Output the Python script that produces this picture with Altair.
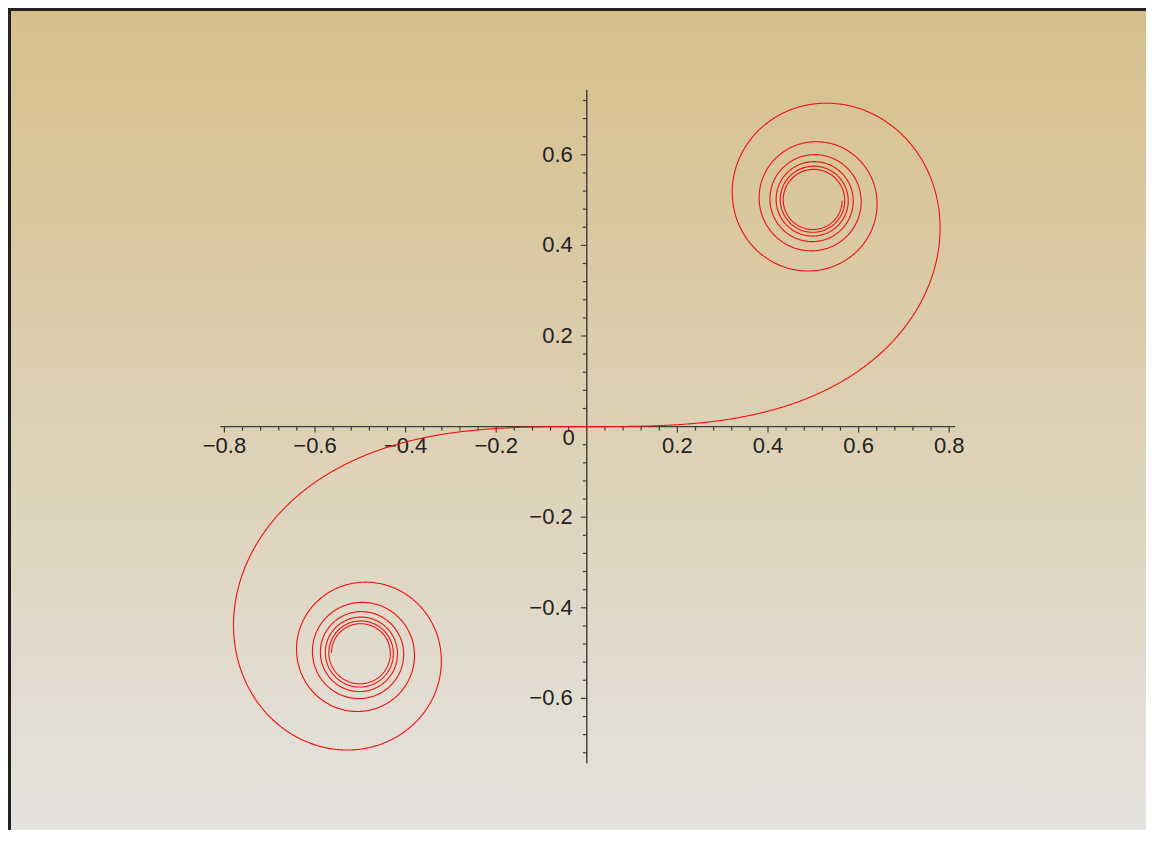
import altair as alt
import numpy as np
import pandas as pd

# ---- data ----
t_start, t_end = -5.0, 5.0          # parameter range of the Cornu (Euler) spiral
n_samples = 6001
x_major = [-0.8, -0.6, -0.4, -0.2, 0.2, 0.4, 0.6, 0.8]
x_labels = ["\u22120.8", "\u22120.6", "\u22120.4", "\u22120.2", "0.2", "0.4", "0.6", "0.8"]
y_major = [-0.6, -0.4, -0.2, 0.2, 0.4, 0.6]
y_labels = ["\u22120.6", "\u22120.4", "\u22120.2", "0.2", "0.4", "0.6"]
x_minor = [round(k * 0.04, 2) for k in range(-20, 21) if k % 5 != 0]
y_minor = [round(k * 0.04, 2) for k in range(-18, 19) if k % 5 != 0]
x_axis_extent = [-0.809, 0.813]
y_axis_extent = [-0.743, 0.743]

# Fresnel integrals C(t), S(t)
t = np.linspace(t_start, t_end, n_samples)
fc = np.cos(np.pi * t ** 2 / 2)
fs = np.sin(np.pi * t ** 2 / 2)
dt = t[1] - t[0]
C = np.concatenate([[0], np.cumsum((fc[1:] + fc[:-1]) / 2 * dt)])
S = np.concatenate([[0], np.cumsum((fs[1:] + fs[:-1]) / 2 * dt)])
i0 = np.argmin(np.abs(t))
C = C - C[i0]
S = S - S[i0]
curve = pd.DataFrame({"t": t, "C": C, "S": S})

# ---- layout ----
W, H = 1138, 822
X0, Y0, K = 578.8, 418.6, 453.0
xs = alt.Scale(domain=[-X0 / K, (W - X0) / K], nice=False, zero=False)
ys = alt.Scale(domain=[-(H - Y0) / K, Y0 / K], nice=False, zero=False)
FONT = "Liberation Sans"
FS = 22
AX = "#3c3c3c"

one = pd.DataFrame({"a": [0]})

bg = alt.Chart(one).mark_rect(
    color={"gradient": "linear", "x1": 0, "x2": 0, "y1": 0, "y2": 1,
           "stops": [{"offset": 0, "color": "#d6bf8b"},
                     {"offset": 0.5, "color": "#ddd0b3"},
                     {"offset": 1, "color": "#e5e3e0"}]}
).encode(x=alt.value(0), x2=alt.value(W), y=alt.value(0), y2=alt.value(H))

border_l = alt.Chart(one).mark_rule(color="#222222", strokeWidth=3).encode(
    x=alt.value(1.5), y=alt.value(0), y2=alt.value(H))
border_t = alt.Chart(one).mark_rule(color="#222222", strokeWidth=3).encode(
    x=alt.value(0), x2=alt.value(W), y=alt.value(1.5))

xaxis_df = pd.DataFrame({"x1": [x_axis_extent[0]], "x2": [x_axis_extent[1]], "y": [0.0]})
yaxis_df = pd.DataFrame({"y1": [y_axis_extent[0]], "y2": [y_axis_extent[1]], "x": [0.0]})
xaxis = alt.Chart(xaxis_df).mark_rule(color=AX, strokeWidth=1.4).encode(
    x=alt.X("x1:Q", scale=xs, axis=None), x2="x2:Q", y=alt.Y("y:Q", scale=ys, axis=None))
yaxis = alt.Chart(yaxis_df).mark_rule(color=AX, strokeWidth=1.4).encode(
    y=alt.Y("y1:Q", scale=ys, axis=None), y2="y2:Q", x=alt.X("x:Q", scale=xs, axis=None))

xt = pd.DataFrame({"v": x_major + x_minor,
                   "a": [0.0] * (len(x_major) + len(x_minor)),
                   "b": [-6 / K] * len(x_major) + [-4 / K] * len(x_minor)})
yt = pd.DataFrame({"v": y_major + y_minor,
                   "a": [0.0] * (len(y_major) + len(y_minor)),
                   "b": [-6 / K] * len(y_major) + [-4 / K] * len(y_minor)})
xticks = alt.Chart(xt).mark_rule(color=AX, strokeWidth=1.2).encode(
    x=alt.X("v:Q", scale=xs, axis=None), y=alt.Y("a:Q", scale=ys, axis=None), y2="b:Q")
yticks = alt.Chart(yt).mark_rule(color=AX, strokeWidth=1.2).encode(
    y=alt.Y("v:Q", scale=ys, axis=None), x=alt.X("a:Q", scale=xs, axis=None), x2="b:Q")

xl = pd.DataFrame({"v": x_major, "lab": x_labels, "z": [0.0] * len(x_major)})
yl = pd.DataFrame({"v": y_major, "lab": y_labels, "z": [0.0] * len(y_major)})
xlabels = alt.Chart(xl).mark_text(font=FONT, fontSize=FS, color="#222222", align="center",
                                  baseline="alphabetic", dy=26).encode(
    x=alt.X("v:Q", scale=xs, axis=None), y=alt.Y("z:Q", scale=ys, axis=None), text="lab:N")
ylabels = alt.Chart(yl).mark_text(font=FONT, fontSize=FS, color="#222222", align="right",
                                  baseline="middle", dx=-14).encode(
    y=alt.Y("v:Q", scale=ys, axis=None), x=alt.X("z:Q", scale=xs, axis=None), text="lab:N")
zero_df = pd.DataFrame({"x": [0.0], "y": [0.0], "lab": ["0"]})
zlabel = alt.Chart(zero_df).mark_text(font=FONT, fontSize=FS, color="#222222", align="right",
                                      baseline="alphabetic", dx=-12, dy=18).encode(
    x=alt.X("x:Q", scale=xs, axis=None), y=alt.Y("y:Q", scale=ys, axis=None), text="lab:N")

spiral = alt.Chart(curve).mark_line(color="#f01010", strokeWidth=1.1).encode(
    x=alt.X("C:Q", scale=xs, axis=None),
    y=alt.Y("S:Q", scale=ys, axis=None),
    order="t:Q")

chart = alt.layer(bg, border_l, border_t, xaxis, yaxis, xticks, yticks,
                  xlabels, ylabels, zlabel, spiral).properties(
    width=W, height=H, padding=0,
    autosize=alt.AutoSizeParams(type="none")
).configure_view(stroke=None)

chart.save("out.html", embed_options={"renderer": "svg", "actions": False})
